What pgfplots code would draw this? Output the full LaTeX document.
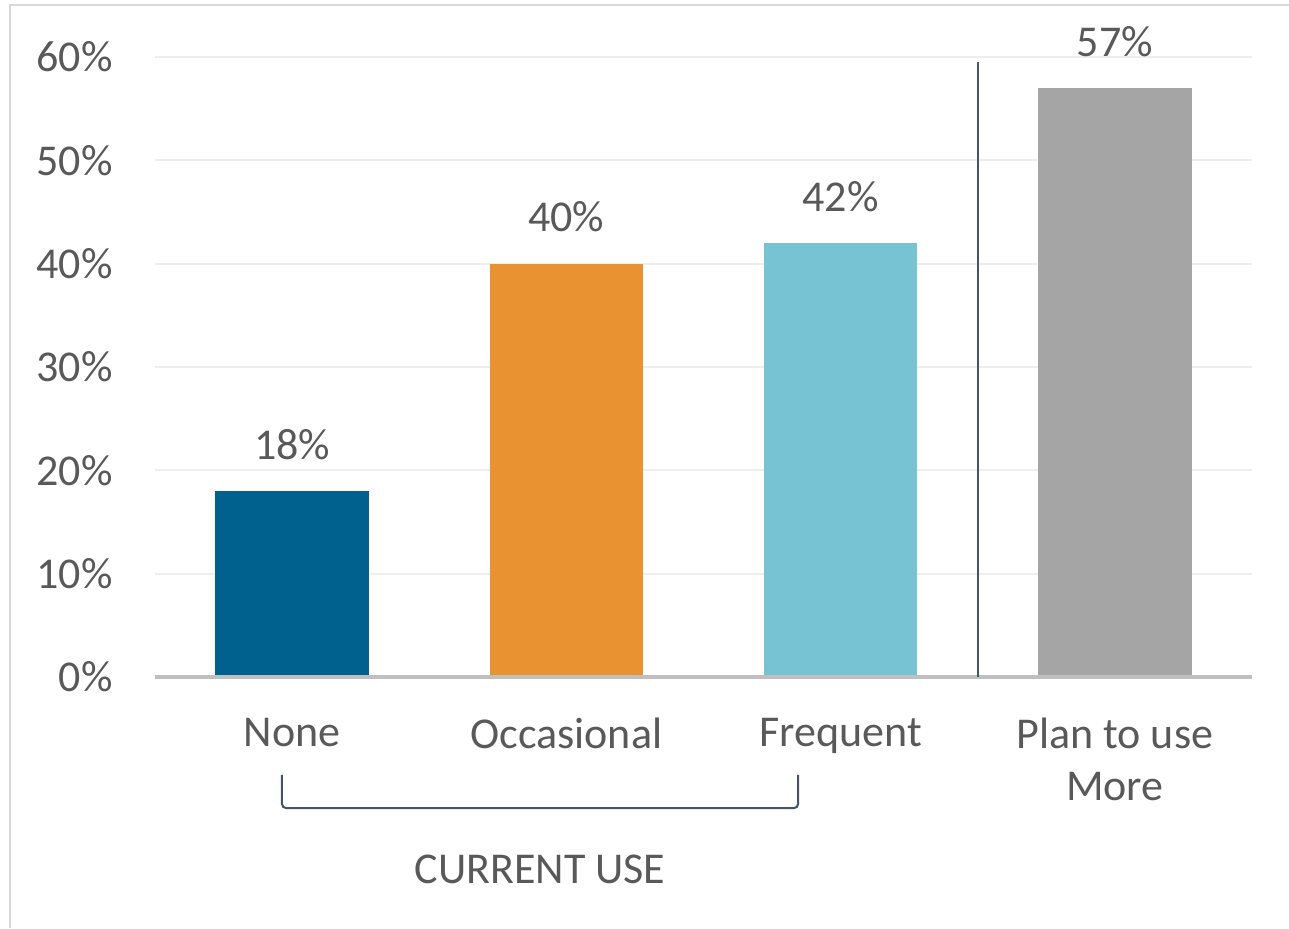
\documentclass[border=0pt]{standalone}
\usepackage{pgfplots}
\pgfplotsset{compat=1.18}
\usepackage{fontspec}
\setmainfont{Carlito}
\definecolor{cNone}{HTML}{00618F}
\definecolor{cOcc}{HTML}{E99232}
\definecolor{cFreq}{HTML}{78C3D3}
\definecolor{cPlan}{HTML}{A5A5A5}
\definecolor{txt}{HTML}{595959}
\definecolor{brk}{HTML}{44546A}
\definecolor{framec}{HTML}{D9D9D9}
\definecolor{gridc}{HTML}{EEEEEE}
\definecolor{axisc}{HTML}{BFBFBF}
\begin{document}
\begin{tikzpicture}
\useasboundingbox (0,0) rectangle (644.5pt,464pt);
\draw[color=framec, line width=1pt] (5pt,0) -- (5pt,461.5pt) -- (644.5pt,461.5pt);
\begin{axis}[
 at={(77.5pt,125.5pt)}, anchor=south west, scale only axis,
 width=548.5pt, height=310pt,
 xmin=-0.5, xmax=3.5, ymin=0, ymax=60,
 ybar, bar width=0.56, bar shift=0pt,
 xtick={0,1,2,3},
 xticklabels={None,Occasional,Frequent,{Plan to use\\More}},
 xticklabel style={align=center, anchor=north, inner sep=0pt, yshift=-20.5pt, font=\fontsize{22}{26}\selectfont, text=txt},
 ytick={0,10,...,60},
 yticklabel={\pgfmathprintnumber{\tick}\%},
 yticklabel style={anchor=east, inner sep=0pt, xshift=-21pt, font=\fontsize{22}{26}\selectfont, text=txt},
 /pgf/number format/assume math mode=true,
 ymajorgrids, grid style={color=gridc, line width=1pt},
 axis line style={draw=none}, major tick length=0pt, tick style={draw=none},
 clip=false,
 nodes near coords={\pgfmathprintnumber{\pgfplotspointmeta}\%},
 every node near coord/.append style={anchor=base, inner sep=0pt, yshift=16pt, font=\fontsize{22}{26}\selectfont, text=txt},
]
\addplot[fill=cNone, draw=none] coordinates {(0,18)};
\addplot[fill=cOcc, draw=none] coordinates {(1,40)};
\addplot[fill=cFreq, draw=none] coordinates {(2,42)};
\addplot[fill=cPlan, draw=none] coordinates {(3,57)};
\draw[color=axisc, line width=1.75pt] (axis cs:-0.5,0) -- (axis cs:3.5,0);
\draw[color=brk, line width=1pt] (axis cs:2.5,0) -- (axis cs:2.5,59.5);
\draw[color=brk, line width=1pt, rounded corners=2pt] (axis cs:-0.037,-9.48) -- (axis cs:-0.037,-12.68) -- (axis cs:1.845,-12.68) -- (axis cs:1.845,-9.48);
\node[anchor=base, text=txt, font=\fontsize{22}{26}\selectfont, inner sep=0pt] at (axis cs:0.904,-19.94) {CURRENT USE};
\end{axis}
\end{tikzpicture}
\end{document}
